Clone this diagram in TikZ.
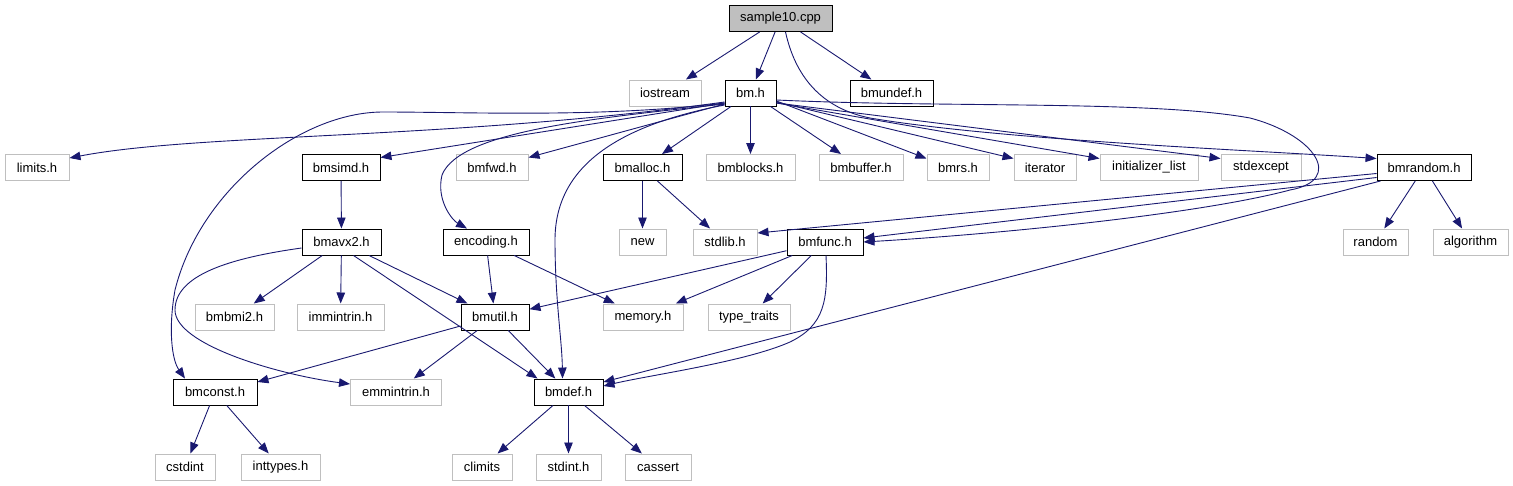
\documentclass[tikz,border=0pt]{standalone}
\usepackage{fontspec}
\setmainfont{Liberation Sans}
\usetikzlibrary{arrows.meta}
\definecolor{edgec}{HTML}{191970}
\definecolor{greyb}{HTML}{BFBFBF}
\begin{document}
\begin{tikzpicture}[x=1pt,y=-1pt,
  font=\fontsize{13}{15}\selectfont,
  box/.style={draw=black, line width=0.95pt, minimum height=26pt, inner sep=0pt},
  gbox/.style={draw=greyb, line width=1pt, minimum height=26pt, inner sep=0pt},
  e/.style={draw=edgec, line width=0.9pt, -{Triangle[length=11pt,width=8.5pt]}}]
\useasboundingbox (0,0) rectangle (1513,485);
% row 1
\node[box, fill=greyb, minimum width=103pt] (sample10) at (780.5,18.5) {sample10.cpp};
% row 2
\node[gbox, minimum width=72pt] (iostream) at (665,93) {iostream};
\node[box, minimum width=51pt] (bmh) at (750.5,93) {bm.h};
\node[box, minimum width=83pt] (bmundef) at (891.5,93) {bmundef.h};
% row 3
\node[gbox, minimum width=64pt] (limits) at (37,167.5) {limits.h};
\node[box, minimum width=78pt] (bmsimd) at (341,167.5) {bmsimd.h};
\node[gbox, minimum width=72pt] (bmfwd) at (492,167.5) {bmfwd.h};
\node[box, minimum width=79pt] (bmalloc) at (642.5,167.5) {bmalloc.h};
\node[gbox, minimum width=89pt] (bmblocks) at (750.5,167.5) {bmblocks.h};
\node[gbox, minimum width=84pt] (bmbuffer) at (861,167.5) {bmbuffer.h};
\node[gbox, minimum width=62pt] (bmrs) at (958,167.5) {bmrs.h};
\node[gbox, minimum width=62pt] (iterator) at (1045,167.5) {iterator};
\node[gbox, minimum width=98pt] (initlist) at (1149,167.5) {initializer\_list};
\node[gbox, minimum width=80pt] (stdexcept) at (1261,167.5) {stdexcept};
\node[box, minimum width=94pt] (bmrandom) at (1424,167.5) {bmrandom.h};
% row 4
\node[box, minimum width=79pt] (bmavx2) at (341.5,242) {bmavx2.h};
\node[box, minimum width=86pt] (encoding) at (486,242) {encoding.h};
\node[gbox, minimum width=47pt] (new) at (642.5,242) {new};
\node[gbox, minimum width=64pt] (stdlib) at (725,242) {stdlib.h};
\node[box, minimum width=76pt] (bmfunc) at (825,242) {bmfunc.h};
\node[gbox, minimum width=65pt] (random) at (1375.5,242) {random};
\node[gbox, minimum width=75pt] (algorithm) at (1470.5,242) {algorithm};
% row 5
\node[gbox, minimum width=79pt] (bmbmi2) at (234.5,317) {bmbmi2.h};
\node[gbox, minimum width=87pt] (immintrin) at (340.5,317) {immintrin.h};
\node[box, minimum width=68pt] (bmutil) at (495,317) {bmutil.h};
\node[gbox, minimum width=80pt] (memory) at (643,317) {memory.h};
\node[gbox, minimum width=82pt] (typetraits) at (749,317) {type\_traits};
% row 6
\node[box, minimum width=84pt] (bmconst) at (215,392) {bmconst.h};
\node[gbox, minimum width=91pt] (emmintrin) at (396,392) {emmintrin.h};
\node[box, minimum width=69pt] (bmdef) at (568.5,392) {bmdef.h};
% row 7
\node[gbox, minimum width=60pt] (cstdint) at (185,467) {cstdint};
\node[gbox, minimum width=79pt] (inttypes) at (280.5,467) {inttypes.h};
\node[gbox, minimum width=60pt] (climits) at (482,467) {climits};
\node[gbox, minimum width=65pt] (stdint) at (568.5,467) {stdint.h};
\node[gbox, minimum width=66pt] (cassert) at (658,467) {cassert};

% sample10.cpp
\draw[e] (sample10) -- (iostream);
\draw[e] (sample10) -- (bmh);
\draw[e] (sample10) -- (bmundef);
\draw[e] ([xshift=5pt]sample10.south) .. controls (795,75) and (820,108) .. (870,118) .. controls (1000,140) and (1250,150) .. ([yshift=9pt]bmrandom.west);
% bm.h to the left
\draw[e] ([yshift=-9pt]bmh.west) .. controls (450,140) and (200,133) .. ([yshift=9.5pt]limits.east);
\draw[e] ([yshift=-10pt]bmh.west) -- ([yshift=10pt]bmsimd.east);
\draw[e] ([yshift=-11pt]bmh.west) -- ([yshift=10pt]bmfwd.east);
\draw[e] ([yshift=-10pt]bmh.west) .. controls (600,118) and (470,112) .. (383,112) .. controls (300,112) and (200,190) .. (175,290) .. controls (168,330) and (172,360) .. ([xshift=-30pt]bmconst.north);
\draw[e] ([yshift=-11pt]bmh.west) .. controls (600,118) and (460,130) .. (442,175) .. controls (436,200) and (452,220) .. ([xshift=-19pt]encoding.north);
\draw[e] ([yshift=-12pt]bmh.west) .. controls (620,125) and (555,165) .. (555,240) .. controls (555,300) and (562,340) .. ([xshift=-6pt]bmdef.north);
% bm.h downwards / right
\draw[e] (bmh) -- (bmalloc);
\draw[e] (bmh) -- (bmblocks);
\draw[e] (bmh) -- (bmbuffer);
\draw[e] ([yshift=-8pt]bmh.east) -- ([yshift=9pt]bmrs.west);
\draw[e] ([yshift=-9pt]bmh.east) -- ([yshift=9pt]iterator.west);
\draw[e] ([yshift=-10pt]bmh.east) -- ([yshift=9pt]initlist.west);
\draw[e] ([yshift=-10pt]bmh.east) -- ([yshift=9pt]stdexcept.west);
\draw[e] ([yshift=-7pt]bmh.east) .. controls (950,108) and (1150,100) .. (1250,118) .. controls (1315,135) and (1345,180) .. (1290,190) .. controls (1200,214) and (1000,234) .. (bmfunc.east);
% bmsimd / bmavx2
\draw[e] (bmsimd) -- (bmavx2);
\draw[e] (bmavx2) -- (bmbmi2);
\draw[e] (bmavx2) -- (immintrin);
\draw[e] (bmavx2) -- (bmutil);
\draw[e] ([xshift=12pt]bmavx2.south) -- ([xshift=4pt]bmdef.north west);
\draw[e] ([yshift=-6pt]bmavx2.west) .. controls (230,258) and (175,275) .. (175,310) .. controls (175,345) and (280,375) .. ([yshift=8pt]emmintrin.west);
% encoding
\draw[e] (encoding) -- (bmutil);
\draw[e] (encoding) -- (memory);
% bmalloc
\draw[e] (bmalloc) -- (new);
\draw[e] (bmalloc) -- (stdlib);
% bmfunc
\draw[e] (bmfunc) -- (bmutil);
\draw[e] (bmfunc) -- (memory);
\draw[e] (bmfunc) -- (typetraits);
\draw[e] ([xshift=1pt]bmfunc.south) .. controls (828,300) and (825,325) .. (790,342) .. controls (745,362) and (650,375) .. ([yshift=6pt]bmdef.east);
% bmrandom
\draw[e] ([yshift=-6pt]bmrandom.west) -- ([yshift=9pt]stdlib.east);
\draw[e] ([yshift=-10pt]bmrandom.west) -- ([yshift=4pt]bmfunc.east);
\draw[e] ([xshift=4pt]bmrandom.south west) -- ([yshift=10pt]bmdef.east);
\draw[e] (bmrandom) -- (random);
\draw[e] (bmrandom) -- (algorithm);
% bmutil
\draw[e] ([yshift=-9pt]bmutil.west) -- ([yshift=10pt]bmconst.east);
\draw[e] (bmutil) -- (emmintrin);
\draw[e] (bmutil) -- (bmdef);
% bmconst, bmdef
\draw[e] (bmconst) -- (cstdint);
\draw[e] (bmconst) -- (inttypes);
\draw[e] (bmdef) -- (climits);
\draw[e] (bmdef) -- (stdint);
\draw[e] (bmdef) -- (cassert);
\end{tikzpicture}
\end{document}
